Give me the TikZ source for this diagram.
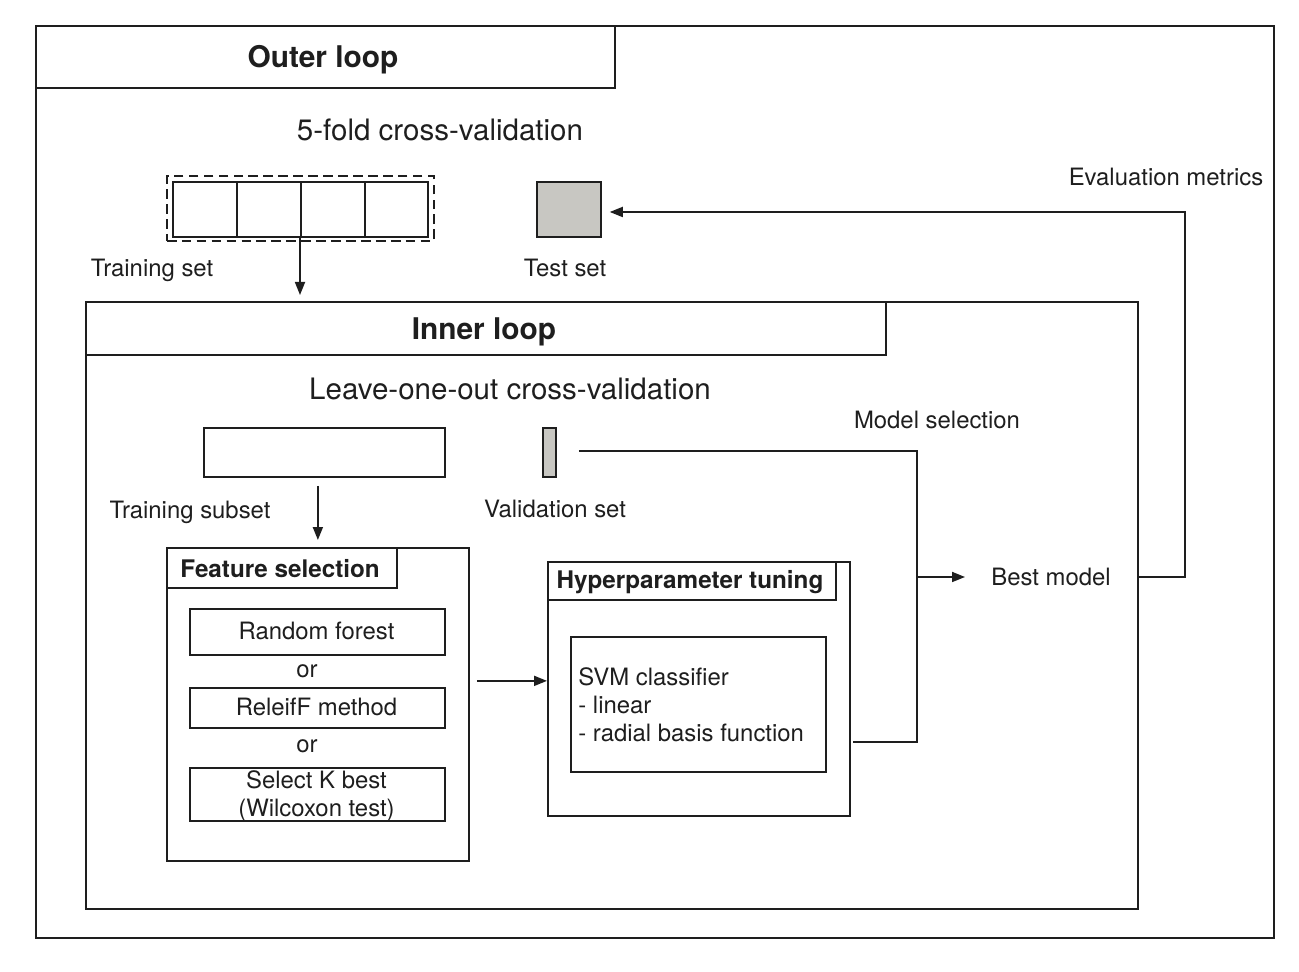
\documentclass[tikz,border=0pt]{standalone}
\usepackage{fontspec}
\setmainfont{TeX Gyre Heros}
\usetikzlibrary{arrows.meta,calc}
\newdimen\pxu
\pxu=0.02cm
\definecolor{setgray}{RGB}{200,199,194}
\definecolor{ink}{RGB}{30,30,30}
\tikzset{
  box/.style={draw=ink, line width=1pt, inner sep=0pt, anchor=north west},
  txt/.style={inner sep=0pt, text=ink},
  lbl/.style={txt, text height=9.8pt, text depth=0pt, font=\fontsize{13.6}{16}\selectfont},
  big/.style={txt, text height=12.1pt, text depth=0pt, font=\fontsize{16.8}{20}\selectfont},
  head/.style={txt, text height=12.2pt, text depth=0pt, font=\fontsize{17}{20}\selectfont\bfseries},
  subhead/.style={txt, text height=9.9pt, text depth=0pt, font=\fontsize{13.8}{16}\selectfont\bfseries},
  multi/.style={txt, font=\fontsize{13.6}{15.6}\selectfont},
  conn/.style={draw=ink, line width=1pt},
  arr/.style={conn, -{Triangle[length=0.26cm, width=0.2cm]}},
}
\begin{document}
\begin{tikzpicture}[x=0.02cm, y=-0.02cm]
\useasboundingbox (0,0) rectangle (1299,972);
% outer loop
\node[box, minimum width=1238\pxu, minimum height=912\pxu] (outer) at (35,25) {};
\node[box, minimum width=579\pxu, minimum height=62\pxu] (outerhead) at (35,25) {};
\node[head] (outertitle) at (323,57) {Outer loop};
\node[big] (kfold) at (440,130) {5-fold cross-validation};
% training folds
\node[box, dash pattern=on 5.5pt off 3pt, minimum width=267\pxu, minimum height=65\pxu] (trainset) at (166,175) {};
\node[box, minimum width=64\pxu, minimum height=55\pxu] (f1) at (172,181) {};
\node[box, minimum width=64\pxu, minimum height=55\pxu] (f2) at (236,181) {};
\node[box, minimum width=64\pxu, minimum height=55\pxu] (f3) at (300,181) {};
\node[box, minimum width=63\pxu, minimum height=55\pxu] (f4) at (364,181) {};
\node[lbl] (trainlbl) at (152,268) {Training set};
\node[box, fill=setgray, minimum width=64\pxu, minimum height=55\pxu] (test) at (536,181) {};
\node[lbl] (testlbl) at (565,268) {Test set};
\node[lbl] (evallbl) at (1166,177) {Evaluation metrics};
% inner loop
\node[box, minimum width=1052\pxu, minimum height=607\pxu] (inner) at (85,301) {};
\node[box, minimum width=800\pxu, minimum height=53\pxu] (innerhead) at (85,301) {};
\node[head] (innertitle) at (484,329) {Inner loop};
\node[big] (loocv) at (510,389) {Leave-one-out cross-validation};
\node[box, minimum width=241\pxu, minimum height=49\pxu] (trsub) at (203,427) {};
\node[lbl] (trsublbl) at (190,510) {Training subset};
\node[box, fill=setgray, minimum width=13\pxu, minimum height=49\pxu] (val) at (542,427) {};
\node[lbl] (vallbl) at (555,509) {Validation set};
\node[lbl] (modsel) at (937,420) {Model selection};
\node[lbl, anchor=west] (best) at (991,577) {Best model};
% feature selection
\node[box, minimum width=302\pxu, minimum height=313\pxu] (fs) at (166,547) {};
\node[box, minimum width=230\pxu, minimum height=40\pxu] (fshead) at (166,547) {};
\node[subhead] (fstitle) at (280,569) {Feature selection};
\node[box, minimum width=255\pxu, minimum height=46\pxu] (rf) at (189,608) {};
\node[lbl] (rftxt) at (316.5,631) {Random forest};
\node[lbl] (or1) at (307,669) {or};
\node[box, minimum width=255\pxu, minimum height=40\pxu] (rel) at (189,687) {};
\node[lbl] (reltxt) at (316.5,707) {ReleifF method};
\node[lbl] (or2) at (307,744) {or};
\node[box, minimum width=255\pxu, minimum height=53\pxu] (skb) at (189,767) {};
\node[multi, align=center] (skbtxt) at (316.5,796) {Select K best\\(Wilcoxon test)};
% hyperparameter tuning
\node[box, minimum width=302\pxu, minimum height=254\pxu] (hp) at (547,561) {};
\node[box, minimum width=288\pxu, minimum height=38\pxu] (hphead) at (547,561) {};
\node[subhead] (hptitle) at (690,580) {Hyperparameter tuning};
\node[box, minimum width=255\pxu, minimum height=135\pxu] (svm) at (570,636) {};
\node[multi, anchor=west, align=left, font=\fontsize{13.6}{15.9}\selectfont] (svmtxt) at (578,705) {SVM classifier\\- linear\\- radial basis function};
% connectors
\coordinate (ms) at (917,451);
\coordinate (hpout) at (853,742);
\coordinate (ev) at (1185,212);
\draw[arr, shorten >=0.12cm] (f3.south west) -- (f3.south west |- inner.north);
\draw[arr, shorten <=0.16cm, shorten >=0.14cm] (trsub.south -| fs.north) -- (fs.north);
\draw[arr, shorten <=0.14cm] ([yshift=0.16cm]hp.west -| fs.east) -- ([yshift=0.16cm]hp.west);
\draw[conn, shorten <=0.44cm] (val.east |- ms) -- (ms) -- (ms |- hpout) -- (hpout);
\draw[arr, shorten >=0.52cm] (ms |- best) -- (best.west);
\draw[arr, shorten >=0.16cm] (inner.east |- best) -| (ev) -- (ev -| test.east);
\end{tikzpicture}
\end{document}
